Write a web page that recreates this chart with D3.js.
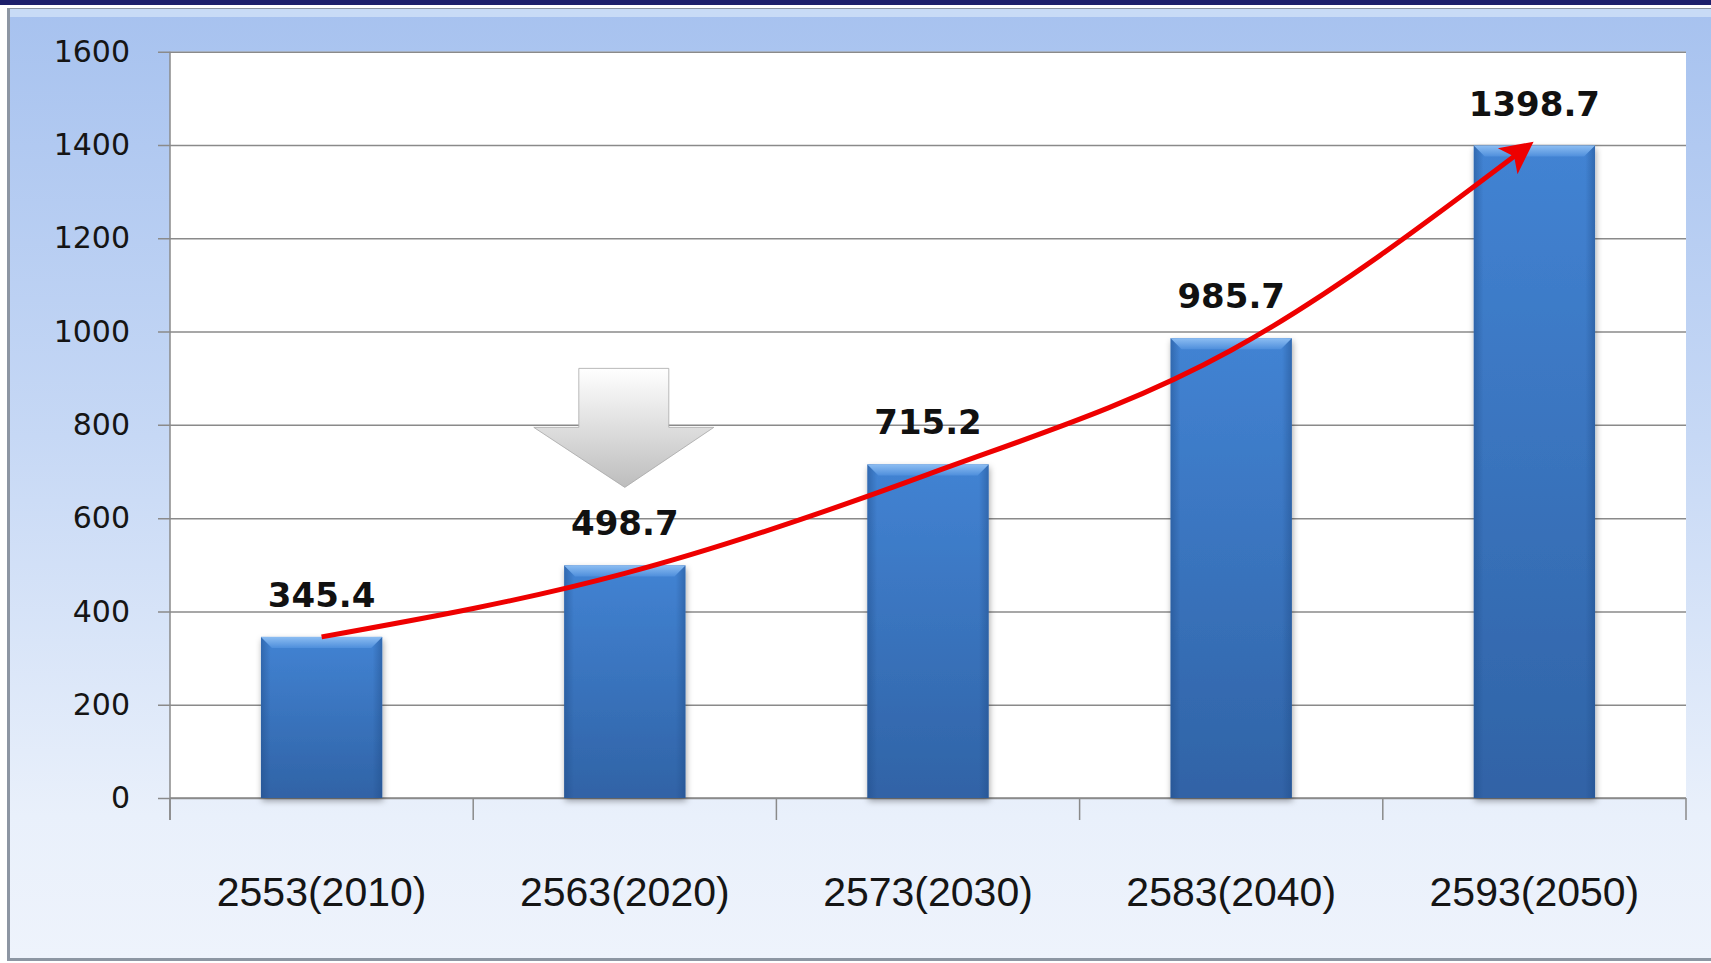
<!DOCTYPE html>
<html>
<head>
<meta charset="utf-8">
<script src="https://cdn.jsdelivr.net/npm/d3@7"></script>
<style>
  html, body { margin: 0; padding: 0; background: #ffffff; }
  svg { display: block; }
</style>
</head>
<body>
<div id="chart"></div>
<script>
// data
var categories = ["2553(2010)", "2563(2020)", "2573(2030)", "2583(2040)", "2593(2050)"];
var values = [345.4, 498.7, 715.2, 985.7, 1398.7];
var yTicks = [0, 200, 400, 600, 800, 1000, 1200, 1400, 1600];

var W = 1711, H = 963;
var plot = { left: 170, right: 1686, top: 51.7, bottom: 798 };

var svg = d3.select("#chart").append("svg")
  .attr("width", W)
  .attr("height", H);

var defs = svg.append("defs");

// panel background
var bg = defs.append("linearGradient").attr("id", "panelGrad")
  .attr("x1", 0).attr("y1", 0).attr("x2", 0).attr("y2", 1);
bg.append("stop").attr("offset", "0%").attr("stop-color", "#a7c2ef");
bg.append("stop").attr("offset", "45%").attr("stop-color", "#c6d8f5");
bg.append("stop").attr("offset", "85%").attr("stop-color", "#e9f0fb");
bg.append("stop").attr("offset", "100%").attr("stop-color", "#eef3fc");

var barGrad = defs.append("linearGradient").attr("id", "barGrad")
  .attr("x1", 0).attr("y1", 0).attr("x2", 0).attr("y2", 1);
barGrad.append("stop").attr("offset", "0%").attr("stop-color", "#4283d3");
barGrad.append("stop").attr("offset", "100%").attr("stop-color", "#3063a6");

var sideGrad = defs.append("linearGradient").attr("id", "sideGrad")
  .attr("x1", 0).attr("y1", 0).attr("x2", 1).attr("y2", 0);
sideGrad.append("stop").attr("offset", "0%").attr("stop-color", "#1e4a85").attr("stop-opacity", 0.45);
sideGrad.append("stop").attr("offset", "8%").attr("stop-color", "#1e4a85").attr("stop-opacity", 0);
sideGrad.append("stop").attr("offset", "92%").attr("stop-color", "#1e4a85").attr("stop-opacity", 0);
sideGrad.append("stop").attr("offset", "100%").attr("stop-color", "#1e4a85").attr("stop-opacity", 0.45);

var bevelGrad = defs.append("linearGradient").attr("id", "bevelGrad")
  .attr("x1", 0).attr("y1", 0).attr("x2", 0).attr("y2", 1);
bevelGrad.append("stop").attr("offset", "0%").attr("stop-color", "#8cbdf2");
bevelGrad.append("stop").attr("offset", "100%").attr("stop-color", "#4f8fdc");

var arrowGrad = defs.append("linearGradient").attr("id", "arrowGrad")
  .attr("x1", 0).attr("y1", 0).attr("x2", 0).attr("y2", 1);
arrowGrad.append("stop").attr("offset", "0%").attr("stop-color", "#ffffff");
arrowGrad.append("stop").attr("offset", "100%").attr("stop-color", "#bdbdbd");

var shadow = defs.append("filter").attr("id", "barShadow")
  .attr("x", "-20%").attr("y", "-10%").attr("width", "140%").attr("height", "130%");
shadow.append("feDropShadow").attr("dx", 1).attr("dy", 3).attr("stdDeviation", 3)
  .attr("flood-color", "#000").attr("flood-opacity", 0.35);

defs.append("marker").attr("id", "redHead")
  .attr("viewBox", "0 0 10 10")
  .attr("refX", 8).attr("refY", 5)
  .attr("markerWidth", 7).attr("markerHeight", 6.5)
  .attr("markerUnits", "strokeWidth")
  .attr("orient", "auto")
  .append("path").attr("d", "M0,0 L10,5 L0,10 L2.5,5 Z").attr("fill", "#ee0000");

// frame: navy band on top, panel below
svg.append("rect").attr("x", 0).attr("y", 0).attr("width", W).attr("height", H).attr("fill", "#ffffff");
svg.append("rect").attr("x", 0).attr("y", 0).attr("width", W).attr("height", 5).attr("fill", "#1d1f6b");
svg.append("rect").attr("x", 7).attr("y", 8).attr("width", W).attr("height", 953)
  .attr("fill", "#8d96a3");
svg.append("rect").attr("x", 10).attr("y", 9).attr("width", W).attr("height", 949)
  .attr("fill", "url(#panelGrad)");
svg.append("rect").attr("x", 10).attr("y", 9).attr("width", W).attr("height", 8)
  .attr("fill", "#d6e6f9").attr("opacity", 0.7);

// plot area
svg.append("rect")
  .attr("x", plot.left).attr("y", plot.top)
  .attr("width", plot.right - plot.left).attr("height", plot.bottom - plot.top)
  .attr("fill", "#ffffff");

var x = d3.scaleBand().domain(categories).range([plot.left, plot.right]).padding(0);
var y = d3.scaleLinear().domain([0, 1600]).range([plot.bottom, plot.top]);

// grid lines + y axis
var yAxis = d3.axisLeft(y).tickValues(yTicks).tickFormat(d3.format("d")).tickSize(12).tickPadding(28);
var gy = svg.append("g").attr("transform", "translate(" + plot.left + ",0)").call(yAxis);
gy.select(".domain").attr("stroke", "#8a8a8a").attr("stroke-width", 1.5)
  .attr("d", "M0," + plot.top + "V" + (plot.bottom + 22));
gy.selectAll(".tick line").attr("stroke", "#8a8a8a").attr("stroke-width", 1.5)
  .attr("x1", -12).attr("x2", plot.right - plot.left);
gy.selectAll(".tick text")
  .attr("font-family", "'DejaVu Sans', Tahoma, sans-serif")
  .attr("font-size", 30)
  .attr("fill", "#151515");

// x axis with ticks between categories
var xAxis = d3.axisBottom(x).tickSize(0).tickPadding(0);
var gx = svg.append("g").attr("transform", "translate(0," + plot.bottom + ")").call(xAxis);
gx.select(".domain").attr("stroke", "#8a8a8a").attr("stroke-width", 1.5)
  .attr("d", "M" + plot.left + ",0H" + plot.right);
gx.selectAll(".tick text")
  .attr("font-family", "'Liberation Sans', Arial, sans-serif")
  .attr("font-size", 41)
  .attr("fill", "#151515")
  .attr("dy", 0)
  .attr("y", 108);
var bounds = categories.map(function (c) { return x(c); }).concat([plot.right]);
gx.selectAll(".sep").data(bounds).enter().append("line")
  .attr("class", "sep")
  .attr("x1", function (d) { return d; }).attr("x2", function (d) { return d; })
  .attr("y1", 0).attr("y2", 22)
  .attr("stroke", "#8a8a8a").attr("stroke-width", 1.5);

// bars
var bw = x.bandwidth() * 0.4;
var bars = svg.append("g").selectAll("g.bar")
  .data(values)
  .enter().append("g").attr("class", "bar");

function bx(d, i) { return x(categories[i]) + x.bandwidth() / 2 - bw / 2; }

bars.append("rect")
  .attr("x", bx)
  .attr("y", function (d) { return y(d); })
  .attr("width", bw)
  .attr("height", function (d) { return plot.bottom - y(d); })
  .attr("fill", "url(#barGrad)")
  .attr("filter", "url(#barShadow)");
bars.append("rect")
  .attr("x", bx)
  .attr("y", function (d) { return y(d); })
  .attr("width", bw)
  .attr("height", function (d) { return plot.bottom - y(d); })
  .attr("fill", "url(#sideGrad)");
bars.append("path")
  .attr("fill", "url(#bevelGrad)")
  .attr("d", function (d, i) {
    var x0 = bx(d, i), x1 = x0 + bw, t = y(d), b = 11;
    return "M" + x0 + "," + t + "L" + x1 + "," + t + "L" + (x1 - b) + "," + (t + b) +
      "L" + (x0 + b) + "," + (t + b) + "Z";
  });

// value labels
svg.append("g").selectAll("text")
  .data(values)
  .enter().append("text")
  .attr("x", function (d, i) { return x(categories[i]) + x.bandwidth() / 2; })
  .attr("y", function (d) { return y(d) - 30; })
  .attr("text-anchor", "middle")
  .attr("font-family", "'DejaVu Sans', Tahoma, sans-serif")
  .attr("font-weight", "bold")
  .attr("font-size", 34)
  .attr("fill", "#111111")
  .text(function (d) { return d3.format(".1f")(d); });

// grey down arrow above the 2020 bar
var ac = x(categories[1]) + x.bandwidth() / 2;
var tipY = y(values[1]) - 78;
svg.append("path")
  .attr("fill", "url(#arrowGrad)")
  .attr("stroke", "#a8a8a8")
  .attr("stroke-width", 0.8)
  .attr("d", "M" + (ac - 46) + "," + (tipY - 119) + "L" + (ac + 44) + "," + (tipY - 119) +
    "L" + (ac + 44) + "," + (tipY - 60) + "L" + (ac + 89) + "," + (tipY - 60) +
    "L" + ac + "," + tipY + "L" + (ac - 91) + "," + (tipY - 60) +
    "L" + (ac - 46) + "," + (tipY - 60) + "Z");

// red growth arrow through the bar tops
var trend = d3.line()
  .x(function (d, i) { return x(categories[i]) + x.bandwidth() / 2 - (i === values.length - 1 ? 6 : 0); })
  .y(function (d, i) { return y(d) + (i === 0 || i === values.length - 1 ? 0 : 6 + i * 2); })
  .curve(d3.curveMonotoneX);
svg.append("path")
  .datum(values)
  .attr("d", trend)
  .attr("fill", "none")
  .attr("stroke", "#ee0000")
  .attr("stroke-width", 5)
  .attr("marker-end", "url(#redHead)");
</script>
</body>
</html>
